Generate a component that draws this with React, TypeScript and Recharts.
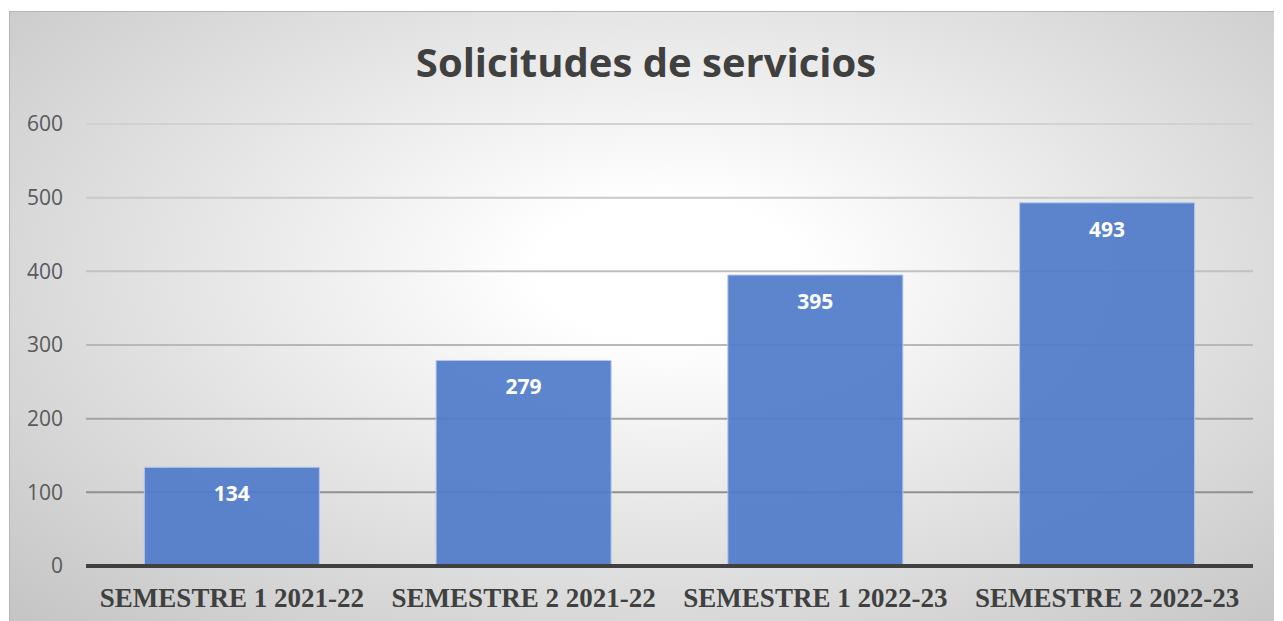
import React from "react";
import { BarChart, Bar, XAxis, YAxis, CartesianGrid, LabelList } from "recharts";

const categories = [
  "SEMESTRE 1 2021-22",
  "SEMESTRE 2 2021-22",
  "SEMESTRE 1 2022-23",
  "SEMESTRE 2 2022-23",
];
const solicitudes = [134, 279, 395, 493];
const yTicks = [0, 100, 200, 300, 400, 500, 600];

const data = categories.map((name, i) => ({ name, value: solicitudes[i] }));

const App = () => {
  return (
    <div
      style={{
        position: "relative",
        width: 1264,
        height: 612,
        marginTop: 3,
        marginLeft: 1,
        border: "1px solid #b4b4b4",
        borderRight: "none",
        borderBottom: "none",
        background:
          "radial-gradient(ellipse farthest-corner at 52% 42%, #ffffff 0%, #ffffff 14%, #e6e6e6 50%, #c4c4c4 100%)",
      }}
    >
      <div
        style={{
          position: "absolute",
          top: 24,
          left: 4,
          width: 1264,
          textAlign: "center",
          fontFamily: "'Open Sans', sans-serif",
          fontWeight: 700,
          fontSize: 40,
          color: "#404040",
          lineHeight: "52px",
        }}
      >
        Solicitudes de servicios
      </div>
      <BarChart
        width={1264}
        height={610}
        data={data}
        margin={{ top: 112, right: 21, left: 0, bottom: 8 }}
        barCategoryGap="20%"
      >
        <defs>
          <linearGradient
            id="gridGrad"
            gradientUnits="userSpaceOnUse"
            x1="0"
            y1="112"
            x2="0"
            y2="554"
          >
            <stop offset="0%" stopColor="#d2d2d2" />
            <stop offset="50%" stopColor="#b8b8b8" />
            <stop offset="100%" stopColor="#7c7c7c" />
          </linearGradient>
        </defs>
        <CartesianGrid vertical={false} stroke="url(#gridGrad)" strokeWidth={2} />
        <XAxis
          dataKey="name"
          axisLine={{ stroke: "#404040", strokeWidth: 4 }}
          tickLine={false}
          tickSize={0}
          tickMargin={22}
          height={48}
          interval={0}
          tick={{
            fill: "#404040",
            fontFamily: "'Liberation Serif', 'Times New Roman', serif",
            fontWeight: 700,
            fontSize: 27,
          }}
        />
        <YAxis
          domain={[0, 600]}
          ticks={yTicks}
          axisLine={false}
          tickLine={false}
          tickSize={0}
          tickMargin={23}
          width={76}
          tick={{
            fill: "#595959",
            fontFamily: "'Open Sans', sans-serif",
            fontSize: 21,
          }}
        />
        <Bar
          dataKey="value"
          fill="#4f7bca"
          fillOpacity={0.92}
          stroke="#b3c6ea"
          strokeWidth={1}
          isAnimationActive={false}
        >
          <LabelList
            dataKey="value"
            position="insideTop"
            offset={19}
            fill="#ffffff"
            style={{
              fontFamily: "'Open Sans', sans-serif",
              fontWeight: 700,
              fontSize: 21,
            }}
          />
        </Bar>
      </BarChart>
    </div>
  );
};

export default App;
